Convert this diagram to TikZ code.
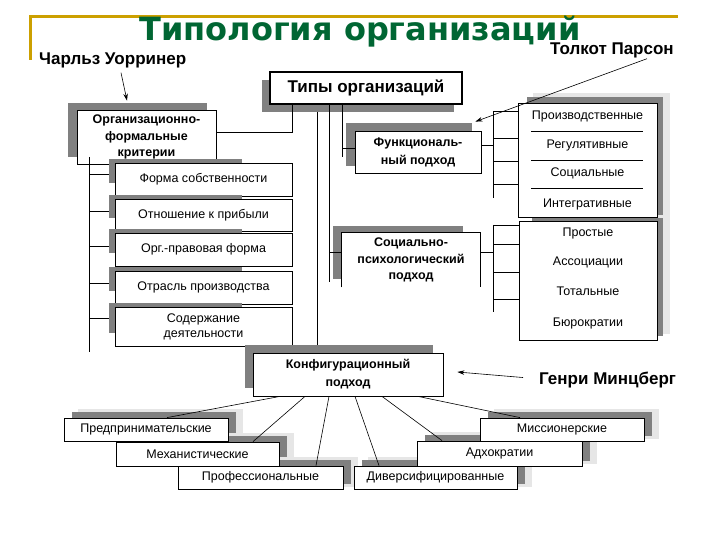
\documentclass[tikz,border=0pt]{standalone}
\usepackage{fontspec}
\setmainfont{Liberation Sans}
\newfontfamily\titlefont{DejaVu Sans}
\usetikzlibrary{calc, arrows.meta}
\definecolor{titleGreen}{HTML}{006633}
\definecolor{frameGold}{HTML}{CCA000}
\definecolor{shadeGray}{HTML}{808080}
\definecolor{haloGray}{HTML}{E6E6E6}

\begin{document}
\begin{tikzpicture}[x=1pt, y=-1pt,
    box/.style={draw, fill=white, line width=0.8pt, inner sep=0pt, align=center, font=\fontsize{12.5}{15}\selectfont},
    headbox/.style={box, font=\bfseries\fontsize{12.5}{16.5}\selectfont},
    item/.style={inner sep=0pt, font=\fontsize{12.5}{15}\selectfont},
    author/.style={inner sep=0pt, anchor=base west, font=\bfseries\fontsize{17}{20}\selectfont},
    shade/.style={fill=shadeGray},
    halo/.style={fill=haloGray},
    link/.style={line width=0.7pt},
    pointer/.style={line width=0.6pt, -{Stealth[length=7pt, width=4.5pt]}}]
  \useasboundingbox (0,0) rectangle (720,540);

  \draw[frameGold, line width=3pt] (30,60) -- (30,17) -- (678,17);
  \node[titleGreen, inner sep=0pt, anchor=base, font=\titlefont\bfseries\fontsize{32}{36}\selectfont] (title) at (360,41) {Типология организаций};

  \node[author] (wa) at (39,65) {Чарльз Уорринер};
  \node[author] (tp) at (550,55) {Толкот Парсон};
  \node[author] (gm) at (539,384) {Генри Минцберг};

  % types and criteria
  \fill[shade] (262,80) rectangle (454,112);
  \node[box, line width=1.5pt, font=\bfseries\fontsize{17}{20}\selectfont, minimum width=192, minimum height=32] (types) at (366,88) {Типы организаций};

  \fill[shade] (68,103) rectangle (207,157);
  \node[headbox, minimum width=139, minimum height=54] (org) at (146.5,137) {Организационно-\\формальные\\критерии};

  \foreach \n/\y/\h/\t in {own/179.5/33/Форма собственности, profit/215/32/Отношение к прибыли, legal/249.5/33/Орг.-правовая форма, branch/287.5/33/Отрасль производства, content/326.5/39/{Содержание\\деятельности}} {
    \fill[shade] (109,\y-\h/2-4) rectangle (242,\y+\h/2-13);
    \node[box, minimum width=177, minimum height=\h] (\n) at (203.5,\y) {\t};
  }

  % approaches
  \fill[shade] (346,123) rectangle (472,166);
  \node[headbox, font=\bfseries\fontsize{12.5}{18}\selectfont, minimum width=126, minimum height=42] (func) at (418,152) {Функциональ-\\ный подход};

  \fill[shade] (333,226) rectangle (463,279);
  \node[headbox, draw=none, minimum width=138, minimum height=54] (sp) at (411,260) {Социально-\\психологический\\подход};
  \draw[line width=0.8pt] (sp.south west) |- (sp.north east) -- (sp.south east);

  \fill[shade] (245,345) rectangle (433,388);
  \node[headbox, font=\bfseries\fontsize{12.5}{18}\selectfont, minimum width=190, minimum height=43] (conf) at (348,374.5) {Конфигурационный\\подход};

  % lists
  \fill[halo] (533,93) rectangle (670,221);
  \fill[shade] (527,97) rectangle (663,215);
  \node[box, minimum width=139, minimum height=114] (fl) at (587.5,160) {};
  \foreach \n/\y/\t in {prod/116/Производственные, reg/145/Регулятивные, socf/173/Социальные, integ/204/Интегративные}
    \node[item] (\n) at (587.5,\y) {\t};
  \foreach \y in {131,160,188} \draw[line width=0.6pt] (531,\y) -- (643,\y);

  \fill[halo] (538,218) rectangle (670,334);
  \fill[shade] (532,218) rectangle (663,336);
  \node[box, minimum width=138, minimum height=119] (sl) at (588,280.5) {};
  \foreach \n/\y/\t in {simple/233/Простые, assoc/262/Ассоциации, total/291/Тотальные, bureau/323/Бюрократии}
    \node[item] (\n) at (588,\y) {\t};

  % configurations
  \foreach \x/\y/\w/\h in {146/429.5/164/23, 197.5/454/163/24, 260.5/477.5/165/23, 562/429.5/164/23, 499.5/453.5/165/25, 435.5/477.5/163/23} {
    \fill[halo] (\x-\w/2+14,\y-\h/2-9) rectangle (\x+\w/2+15,\y+\h/2-2);
    \fill[shade] (\x-\w/2+8,\y-\h/2-6) rectangle (\x+\w/2+8,\y+\h/2-5);
  }
  \foreach \n/\x/\y/\w/\h/\t in {entr/146/429.5/164/23/Предпринимательские, mech/197.5/454/163/24/Механистические, prof/260.5/477.5/165/23/Профессиональные, miss/562/429.5/164/23/Миссионерские, adh/499.5/453.5/165/25/Адхократии, div/435.5/477.5/163/23/Диверсифицированные}
    \node[box, minimum width=\w, minimum height=\h] (\n) at (\x,\y) {\t};

  % connectors
  \draw[link] (types.south -| 292,0) |- (org.east |- 0,132);
  \draw[link] (317,112) -- (317,345);
  \draw[link] (types.south -| 329,0) -- (329,282);
  \draw[link] (329,252) -- (sp.west |- 0,252);
  \draw[link] (types.south -| 342,0) -- (342,157);
  \draw[link] (342,148) -- (func.west |- 0,148);

  \draw[link] (89,157) -- (89,352);
  \foreach \n/\dy in {own/-5, profit/-4, legal/-3, branch/-4, content/-8}
    \draw[link] ($(\n.west)+(-6,\dy)$) -- ++(-20,0);

  \draw[link] (func.east |- 0,145) -- (493,145);
  \draw[link] (493,111) -- (493,198);
  \foreach \y in {111,138,161,184} \draw[link] (fl.west |- 0,\y) -- ++(-25,0);

  \draw[link] (sp.east |- 0,252) -- (493,252);
  \draw[link] (493,225) -- (493,312);
  \foreach \y in {225,244,272,299} \draw[link] (sl.west |- 0,\y) -- ++(-26,0);

  \foreach \a/\b/\n in {280/167/entr, 305/253/mech, 329/316/prof, 355/379/div, 382/442/adh, 418/520/miss}
    \draw[line width=0.6pt] (\a,0 |- conf.south) -- (\b,0 |- \n.north);

  \draw[pointer] ($(wa.south west)+(82,4)$) -- ($(org.north)+(-19.5,-9)$);
  \draw[pointer] ($(tp.south east)+(-27,0)$) -- ($(func.north east)+(-6,-9)$);
  \draw[pointer] ($(gm.west)+(-16,-2)$) -- ($(conf.east)+(14,-2.5)$);
\end{tikzpicture}
\end{document}
